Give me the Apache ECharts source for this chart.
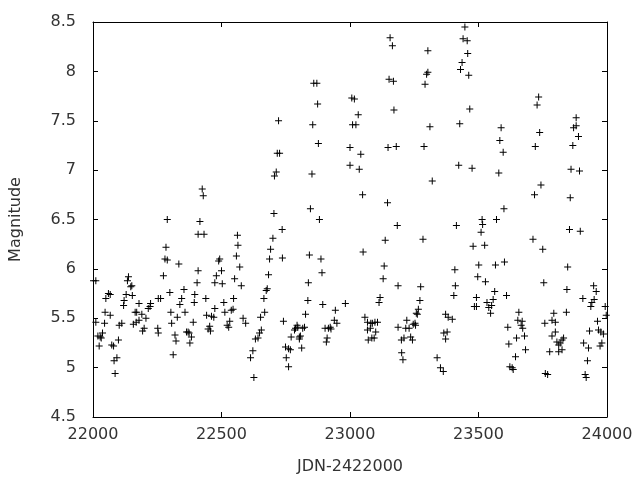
<!DOCTYPE html>
<html>
<head>
<meta charset="utf-8">
<script src="https://cdn.jsdelivr.net/npm/echarts@6/dist/echarts.min.js"></script>
<style>
  html, body { margin: 0; padding: 0; background: #fff; }
  #chart { width: 640px; height: 480px; }
</style>
</head>
<body>
<div id="chart"></div>
<script>
// JDN-2422000 of each observation
const jd = [
  22002, 22011, 22011, 22019, 22028, 22032, 22037, 22024, 22045, 22047,
  22050, 22060, 22067, 22067, 22073, 22080, 22082, 22093, 22086, 22099,
  22102, 22112, 22119, 22121, 22129, 22134, 22138, 22147, 22151, 22153,
  22157, 22164, 22170, 22168, 22179, 22179, 22190, 22193, 22199, 22206,
  22215, 22222, 22224, 22254, 22263, 22252, 22254, 22274, 22280, 22289,
  22284, 22289, 22299, 22303, 22306, 22312, 22319, 22323, 22328, 22334,
  22338, 22345, 22354, 22358, 22364, 22370, 22374, 22377, 22383, 22390,
  22394, 22396, 22405, 22409, 22416, 22409, 22432, 22425, 22429, 22439,
  22442, 22448, 22457, 22454, 22461, 22470, 22474, 22474, 22480, 22489,
  22493, 22500, 22503, 22509, 22513, 22522, 22528, 22532, 22538, 22545,
  22547, 22551, 22558, 22564, 22562, 22571, 22577, 22584, 22594, 22613,
  22622,
  22626, 22632, 22642, 22648, 22655, 22652, 22668, 22665, 22674, 22678,
  22683, 22687, 22691, 22700, 22704, 22736, 22737, 22706, 22713, 22717,
  22726, 22722, 22741, 22749, 22761, 22768, 22752, 22761, 22771, 22784,
  22788, 22794, 22797, 22803, 22807, 22803, 22812, 22816, 22823, 22827,
  22836, 22838, 22842, 22846, 22852, 22855, 22859, 22871, 22874, 22877,
  22881, 22887, 22891, 22894, 22903, 22916, 22923, 22926, 22911, 22908,
  22939, 22943, 22949, 22982, 23000, 23000, 23007, 23017, 23010, 23023,
  23032, 23042, 23036, 23049, 23051, 23058, 23068, 23068, 23079, 23071,
  23447, 23440, 23456, 23458, 23436, 23430, 23462, 23156, 23165, 23303,
  23303, 23298, 23292, 23152, 23169, 23171, 23466, 23311, 23427, 23148,
  23180, 23288, 23423, 23475, 23320, 23146, 23184, 23414, 23137, 23284,
  23514, 23516, 23510, 23479, 23524, 23133, 23501, 23129, 23187, 23275,
  23408, 23410, 23404, 23497, 23527, 23117, 23113, 23272, 23266, 23258,
  23492, 23484, 23492, 23533, 23540, 23081, 23087, 23097, 23107, 23100,
  23085, 23094, 23187, 23217, 23230, 23246, 23253, 23255, 23221, 23200,
  23210, 23236, 23243, 23201, 23206, 23262, 23339, 23352, 23363, 23372,
  23382, 23398, 23365, 23378, 23372,
  23734, 23728, 23738, 23721, 23588, 23583, 23596, 23579, 23599, 23570,
  23743, 23718, 23712, 23750, 23566, 23601, 23754, 23563, 23557, 23551,
  23547, 23609, 23614, 23618, 23644, 23622, 23631, 23635, 23657, 23653,
  23670, 23666, 23672, 23648, 23679, 23683, 23758, 23793, 23786, 23799,
  23786, 23799, 23805, 23812, 23818, 23825, 23831, 23812, 23825, 23777,
  23760, 23769, 23842, 23844, 23847, 23854, 23896, 23857, 23860, 23893,
  23867, 23870, 23880, 23889, 23880, 23906, 23937, 23941, 23950, 23948,
  23958, 23932, 23909, 23928, 23924, 23915, 23919, 23963, 23967, 23976,
  23980, 23973, 23993, 23997, 23986
];

// visual magnitude of each observation (same order)
const mag = [
  5.88, 5.88, 5.46, 5.32, 5.31, 5.30, 5.35, 5.22, 5.45, 5.56,
  5.70, 5.75, 5.74, 5.53, 5.23, 5.22, 5.07, 5.10, 4.94, 5.28,
  5.43, 5.45, 5.63, 5.68, 5.74, 5.88, 5.92, 5.82, 5.83, 5.73,
  5.44, 5.56, 5.56, 5.46, 5.48, 5.65, 5.54, 5.37, 5.40, 5.50,
  5.60, 5.62, 5.65, 5.70, 5.70, 5.40, 5.35, 5.93, 6.10, 6.09,
  6.22, 6.50, 5.76, 5.56, 5.45, 5.13, 5.33, 5.27, 5.51, 6.05,
  5.64, 5.70, 5.79, 5.56, 5.36, 5.36, 5.35, 5.25, 5.31, 5.46,
  5.66, 5.74, 5.86, 5.98, 6.48, 6.35, 6.35, 6.81, 6.74, 5.70,
  5.53, 5.39, 5.37, 5.42, 5.52, 5.51, 5.60, 5.86, 5.93, 6.08,
  6.10, 5.98, 5.85, 5.66, 5.56, 5.43, 5.41, 5.47, 5.58, 5.59,
  5.70, 5.90, 6.13, 6.24, 6.34, 6.02, 5.83, 5.50, 5.45, 5.10,
  5.17,
  4.90, 5.29, 5.30, 5.35, 5.38, 5.51, 5.56, 5.70, 5.78, 5.80,
  5.94, 6.10, 6.20, 6.31, 6.56, 6.40, 6.11, 6.94, 6.98, 7.17,
  7.17, 7.50, 5.47, 5.21, 5.19, 5.18, 5.10, 5.01, 5.31, 5.38,
  5.40, 5.43, 5.41, 5.31, 5.32, 5.29, 5.20, 5.40, 5.41, 5.54,
  5.68, 5.86, 6.14, 6.61, 6.96, 7.46, 7.88, 7.88, 7.67, 7.27,
  6.50, 6.10, 5.96, 5.64, 5.40, 5.40, 5.41, 5.39, 5.30, 5.26,
  5.48, 5.58, 5.45, 5.65, 7.23, 7.05, 7.73, 7.72, 7.46, 7.46,
  7.56, 7.16, 7.01, 6.75, 6.17, 5.51, 5.46, 5.38, 5.40, 5.28,
  8.45, 8.33, 8.31, 8.18, 8.09, 8.02, 7.96, 8.34, 8.26, 8.21,
  7.99, 7.97, 7.87, 7.92, 7.90, 7.61, 7.62, 7.44, 7.47, 7.23,
  7.24, 7.24, 7.05, 7.02, 6.89, 6.67, 6.44, 6.44, 6.29, 6.30,
  6.50, 6.45, 6.37, 6.23, 6.24, 6.03, 6.04, 5.90, 5.83, 5.82,
  5.99, 5.83, 5.73, 5.92, 5.87, 5.71, 5.66, 5.68, 5.59, 5.55,
  5.71, 5.62, 5.62, 5.66, 5.61, 5.45, 5.45, 5.46, 5.46, 5.36,
  5.30, 5.30, 5.41, 5.40, 5.40, 5.44, 5.45, 5.43, 5.48, 5.28,
  5.30, 5.31, 5.28, 5.15, 5.08, 5.54, 5.10, 5.00, 4.96, 5.54,
  5.51, 5.49, 5.35, 5.36, 5.29,
  7.74, 7.66, 7.38, 7.24, 7.43, 7.30, 7.18, 6.97, 6.61, 6.50,
  6.85, 6.75, 6.30, 6.20, 6.04, 6.07, 5.86, 5.77, 5.69, 5.63,
  5.55, 5.73, 5.41, 5.24, 5.11, 5.01, 5.00, 4.98, 5.56, 5.48,
  5.47, 5.43, 5.40, 5.30, 5.32, 5.18, 5.45, 5.55, 5.48, 5.46,
  5.32, 5.36, 5.26, 5.23, 5.25, 5.28, 5.30, 5.16, 5.18, 5.16,
  4.94, 4.93, 5.56, 5.79, 6.02, 6.40, 6.38, 6.72, 7.01, 6.99,
  7.25, 7.43, 7.45, 7.34, 7.53, 5.70, 5.62, 5.66, 5.69, 5.83,
  5.77, 5.37, 5.25, 5.20, 5.07, 4.93, 4.90, 5.47, 5.38, 5.36,
  5.25, 5.22, 5.62, 5.53, 5.34
];

const chart = echarts.init(document.getElementById('chart'), null, { renderer: 'canvas' });

const FONT = 'DejaVu Sans';
const textColor = '#333';

// gnuplot style frame: inward ticks on all four sides
function frameAxis(extra) {
  return Object.assign({
    type: 'value',
    axisLine: { show: true, onZero: false, lineStyle: { color: '#000', width: 1 } },
    axisTick: { show: true, inside: true, length: 5, lineStyle: { color: '#000', width: 1 } },
    splitLine: { show: false },
    axisLabel: { show: false }
  }, extra);
}

const labelStyle = { color: textColor, fontFamily: FONT, fontSize: 16 };

const option = {
  animation: false,
  backgroundColor: '#fff',
  grid: { left: 91, right: 33, top: 22, bottom: 61 },
  xAxis: [
    frameAxis({
      min: 22000, max: 24000, interval: 500, position: 'bottom',
      axisLabel: Object.assign({ show: true, margin: 10, formatter: v => String(v) }, labelStyle),
      name: 'JDN-2422000',
      nameLocation: 'middle',
      nameGap: 42,
      nameTextStyle: labelStyle
    }),
    frameAxis({ min: 22000, max: 24000, interval: 500, position: 'top' })
  ],
  yAxis: [
    frameAxis({
      min: 4.5, max: 8.5, interval: 0.5, position: 'left',
      axisLabel: Object.assign({ show: true, margin: 17 }, labelStyle),
      name: 'Magnitude',
      nameLocation: 'middle',
      nameRotate: 90,
      nameGap: 69,
      nameTextStyle: labelStyle
    }),
    frameAxis({ min: 4.5, max: 8.5, interval: 0.5, position: 'right' })
  ],
  series: [{
    type: 'scatter',
    xAxisIndex: 0,
    yAxisIndex: 0,
    symbol: 'path://M3,0H4V7H3ZM0,3H7V4H0Z',
    symbolSize: 7,
    itemStyle: { color: '#000', opacity: 1 },
    data: jd.map((d, i) => [d, mag[i]])
  }]
};

chart.setOption(option);
</script>
</body>
</html>
